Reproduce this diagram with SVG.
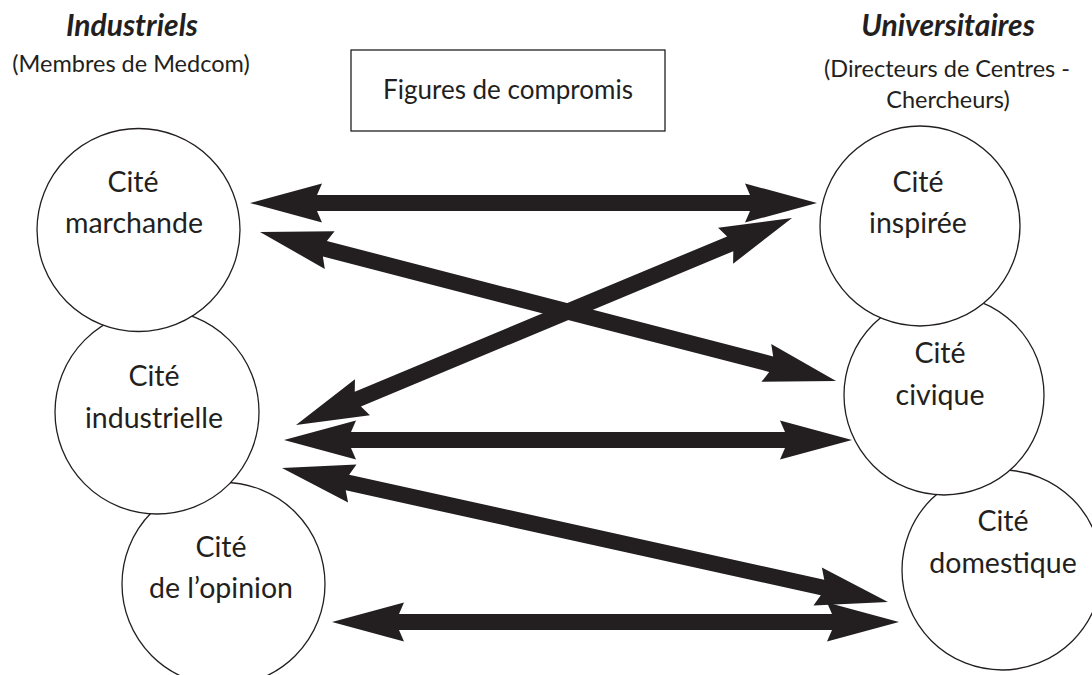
<svg xmlns="http://www.w3.org/2000/svg" width="1092" height="675" viewBox="0 0 1092 675">
<style>
  .bg { fill: #ffffff; }
  .cite { fill: #ffffff; stroke: #231f20; stroke-width: 1.3; }
  .t { font-family: Lato, "Open Sans", "Liberation Sans", sans-serif; fill: #231f20; text-anchor: middle; }
  .ct { font-size: 28.5px; }
  .head { font-size: 30px; font-weight: bold; font-style: italic; }
  .sub { font-size: 23.5px; }
  .arrow { fill: #231f20; }
  .box { fill: #ffffff; stroke: #231f20; stroke-width: 1.3; }
</style>
<rect class="bg" x="0" y="0" width="1092" height="675"/>

<g id="title-industriels">
  <text class="t head" x="132" y="36">Industriels</text>
  <text class="t sub" x="131" y="72">(Membres de Medcom)</text>
</g>
<g id="title-universitaires">
  <text class="t head" x="948" y="36">Universitaires</text>
  <text class="t sub" x="947" y="77">(Directeurs de Centres -</text>
  <text class="t sub" x="948" y="108">Chercheurs)</text>
</g>
<g id="figures-de-compromis">
  <rect class="box" x="351" y="50" width="314" height="81"/>
  <text class="t" x="508" y="99" style="font-size:26px">Figures de compromis</text>
</g>

<g id="cite-opinion">
  <circle class="cite" cx="223.5" cy="584" r="101.5"/>
  <text class="t ct" x="221" y="557">Cité</text>
  <text class="t ct" x="221" y="598">de l’opinion</text>
</g>
<g id="cite-industrielle">
  <circle class="cite" cx="157" cy="412" r="102"/>
  <text class="t ct" x="154" y="386">Cité</text>
  <text class="t ct" x="154" y="428">industrielle</text>
</g>
<g id="cite-marchande">
  <circle class="cite" cx="138.5" cy="230" r="101.5"/>
  <text class="t ct" x="133" y="192">Cité</text>
  <text class="t ct" x="134" y="233">marchande</text>
</g>

<g id="cite-domestique">
  <circle class="cite" cx="1002" cy="570" r="100"/>
  <text class="t ct" x="1003" y="531">Cité</text>
  <text class="t ct" x="1003" y="573">domestique</text>
</g>
<g id="cite-civique">
  <circle class="cite" cx="944" cy="395" r="100"/>
  <text class="t ct" x="940" y="363">Cité</text>
  <text class="t ct" x="940" y="405">civique</text>
</g>
<g id="cite-inspiree">
  <circle class="cite" cx="920" cy="226" r="100"/>
  <text class="t ct" x="918" y="192">Cité</text>
  <text class="t ct" x="918" y="233">inspirée</text>
</g>

<g id="connectors">
  <polygon class="arrow" transform="translate(250,203)" points="0,0 72,-19.5 67,-8 500,-8 495,-19.5 567,0 495,19.5 500,8 67,8 72,19.5"/>
  <polygon class="arrow" transform="translate(260,232) rotate(14.5)" points="0,0 72,-19.5 67,-8 528,-8 523,-19.5 595,0 523,19.5 528,8 67,8 72,19.5"/>
  <polygon class="arrow" transform="translate(296,425) rotate(-22.65)" points="0,0 72,-19.5 67,-8 470.5,-8 465.5,-19.5 537.5,0 465.5,19.5 470.5,8 67,8 72,19.5"/>
  <polygon class="arrow" transform="translate(284,440)" points="0,0 72,-19.5 67,-8 501,-8 496,-19.5 568,0 496,19.5 501,8 67,8 72,19.5"/>
  <polygon class="arrow" transform="translate(282,468) rotate(12.47)" points="0,0 72,-19.5 67,-8 553.6,-8 548.6,-19.5 620.6,0 548.6,19.5 553.6,8 67,8 72,19.5"/>
  <polygon class="arrow" transform="translate(332,622)" points="0,0 72,-19.5 67,-8 500,-8 495,-19.5 567,0 495,19.5 500,8 67,8 72,19.5"/>
</g>
</svg>
